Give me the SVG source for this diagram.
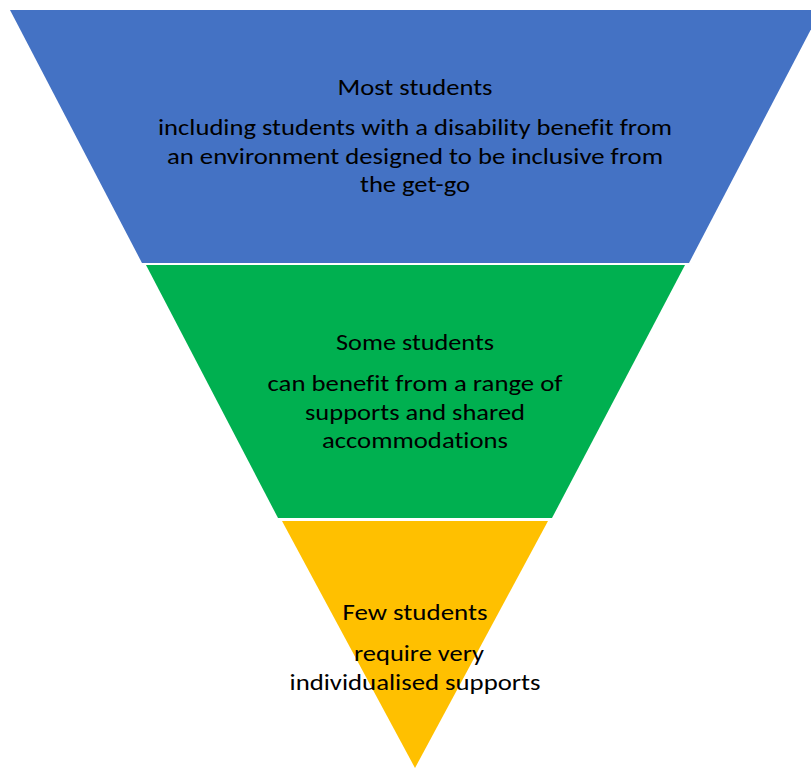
<svg xmlns="http://www.w3.org/2000/svg" width="811" height="769" viewBox="0 0 811 769">
<style>
.t{font-family:Calibri,Carlito,"Liberation Sans",Arial,sans-serif;font-size:23px;fill:#000;text-anchor:middle;font-variant-ligatures:none}
</style>
<rect width="811" height="769" fill="#fff"/>
<g id="most">
<polygon points="10,10 821,10 689,263 142,263" fill="#4472C4"/>
<text class="t" x="415" y="95" textLength="155" lengthAdjust="spacingAndGlyphs">Most students</text>
<text class="t" x="415" y="135" textLength="514" lengthAdjust="spacingAndGlyphs">including students with a disability benefit from</text>
<text class="t" x="415" y="164" textLength="496" lengthAdjust="spacingAndGlyphs">an environment designed to be inclusive from</text>
<text class="t" x="415" y="192" textLength="110" lengthAdjust="spacingAndGlyphs">the get-go</text>
</g>
<g id="some">
<polygon points="146,265 685,265 552,518 278,518" fill="#00B050"/>
<text class="t" x="415" y="350" textLength="158" lengthAdjust="spacingAndGlyphs">Some students</text>
<text class="t" x="415" y="391" textLength="295" lengthAdjust="spacingAndGlyphs">can benefit from a range of</text>
<text class="t" x="415" y="420" textLength="220" lengthAdjust="spacingAndGlyphs">supports and shared</text>
<text class="t" x="415" y="448" textLength="186" lengthAdjust="spacingAndGlyphs">accommodations</text>
</g>
<g id="few">
<polygon points="282,521 548,521 415,768" fill="#FFC000"/>
<text class="t" x="415" y="620" textLength="145" lengthAdjust="spacingAndGlyphs">Few students</text>
<text class="t" x="419" y="661" textLength="130" lengthAdjust="spacingAndGlyphs">require very</text>
<text class="t" x="415" y="690" textLength="251" lengthAdjust="spacingAndGlyphs">individualised supports</text>
</g>
<g id="connectors"></g>
</svg>
